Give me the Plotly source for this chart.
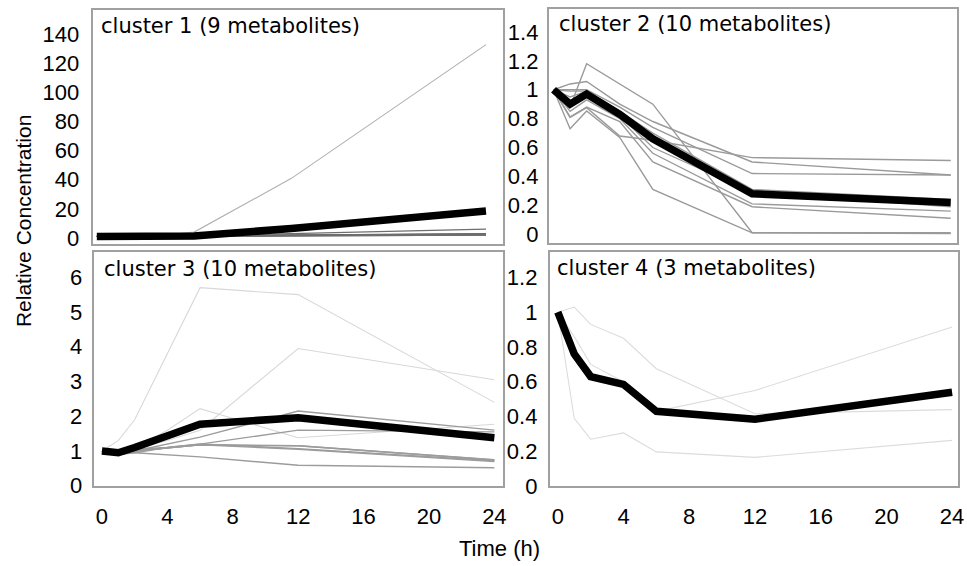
import plotly.graph_objects as go

W, H = 967, 566

time_h = [0, 1, 2, 4, 6, 12, 24]
x_ticks = [0, 4, 8, 12, 16, 20, 24]

# ---- cluster 1 (9 metabolites) ----
c1_light = [
    [1, 1.1, 1.3, 1.8, 4, 41, 133],
]
c1_dark = [
    [1, 1.0, 1.1, 1.3, 1.5, 3.0, 6.0],
    [1, 0.9, 1.0, 1.2, 1.4, 2.0, 3.0],
    [1, 1.0, 1.0, 1.1, 1.3, 1.8, 2.8],
    [1, 1.1, 1.2, 1.3, 1.5, 2.0, 2.6],
    [1, 0.9, 0.9, 1.0, 1.2, 1.6, 2.4],
    [1, 1.0, 1.1, 1.2, 1.3, 1.7, 2.2],
    [1, 1.0, 1.0, 1.1, 1.2, 1.5, 2.0],
    [1, 1.0, 1.0, 1.1, 1.2, 1.4, 1.9],
]
c1_mean = [1, 1.0, 1.0, 1.1, 1.3, 6.5, 18.5]

# ---- cluster 2 (10 metabolites) ----
c2_lines = [
    [1, 0.88, 1.18, 1.04, 0.90, 0.01, 0.005],
    [1, 0.73, 0.853, 0.67, 0.31, 0.01, 0.01],
    [1, 0.81, 0.876, 0.68, 0.65, 0.53, 0.51],
    [1, 1.04, 1.057, 0.90, 0.78, 0.50, 0.41],
    [1, 1.0, 1.0, 0.88, 0.74, 0.42, 0.41],
    [1, 0.99, 0.99, 0.85, 0.70, 0.31, 0.24],
    [1, 0.95, 0.99, 0.85, 0.66, 0.30, 0.21],
    [1, 0.92, 0.95, 0.82, 0.60, 0.29, 0.19],
    [1, 0.85, 0.93, 0.80, 0.56, 0.21, 0.16],
    [1, 0.81, 0.88, 0.78, 0.50, 0.19, 0.11],
]
c2_mean = [1.0, 0.90, 0.97, 0.83, 0.66, 0.28, 0.22]

# ---- cluster 3 (10 metabolites) ----
c3_light = [
    [1, 1.3, 1.9, 3.8, 5.7, 5.5, 2.4],
    [1, 0.95, 1.05, 1.3, 1.6, 3.95, 3.05],
    [1, 0.9, 1.1, 1.6, 2.22, 1.38, 1.77],
]
c3_gray = [
    [1, 0.95, 1.0, 1.2, 1.4, 2.15, 1.6],
    [1, 0.9, 0.95, 1.1, 1.2, 1.6, 1.55],
    [1, 1.0, 1.05, 1.1, 1.2, 1.07, 0.72],
    [1, 0.95, 1.0, 1.1, 1.18, 1.05, 0.70],
    [1, 0.95, 0.95, 0.9, 0.83, 0.59, 0.52],
    [1, 0.95, 1.0, 1.1, 1.18, 1.15, 0.75],
    [1, 0.95, 1.0, 1.1, 1.18, 1.15, 0.74],
]
c3_mean = [1.0, 0.95, 1.1, 1.44, 1.77, 1.96, 1.38]

# ---- cluster 4 (3 metabolites) ----
c4_lines = [
    [1, 1.03, 0.93, 0.85, 0.675, 0.416, 0.44],
    [1, 0.86, 0.70, 0.60, 0.43, 0.55, 0.915],
    [1, 0.39, 0.27, 0.306, 0.197, 0.165, 0.263],
]
c4_mean = [1.0, 0.76, 0.63, 0.585, 0.43, 0.385, 0.54]

titles = ["cluster 1 (9 metabolites)", "cluster 2 (10 metabolites)",
          "cluster 3 (10 metabolites)", "cluster 4 (3 metabolites)"]

# panel pixel boxes: (left, right, top, bottom)
boxes = [(94, 506, 10, 249), (552, 963, 9, 248), (95, 506, 257, 497), (553, 964, 257, 497)]
xranges = [[-0.21, 25.04], [-0.30, 24.38], [-0.46, 24.52], [-0.50, 24.36]]
yranges = [[-4, 157], [-0.059, 1.56], [-0.02, 6.74], [-0.002, 1.349]]
ydticks = [20, 0.2, 1, 0.2]
ytickmax = [140, 1.4, 6, 1.2]
ystandoff = [8, 4, 6, 6]
title_pos = [(100, 27), (560, 25), (103, 275), (558, 274)]

fig = go.Figure()

def add(panel, ys, color, width):
    n = panel + 1
    fig.add_trace(go.Scatter(
        x=time_h, y=ys, mode="lines",
        line=dict(color=color, width=width),
        xaxis="x" if n == 1 else f"x{n}",
        yaxis="y" if n == 1 else f"y{n}",
        showlegend=False, hoverinfo="skip"))

for s in c1_light:
    add(0, s, "#b0b0b0", 1.1)
for s in c1_dark:
    add(0, s, "#6e6e6e", 1.3)
add(0, c1_mean, "#000000", 7.5)

for s in c2_lines:
    add(1, s, "#9a9a9a", 1.4)
add(1, c2_mean, "#000000", 7.5)

for s in c3_light:
    add(2, s, "#d8d8d8", 1.1)
for s in c3_gray:
    add(2, s, "#9c9c9c", 1.4)
add(2, c3_mean, "#000000", 7.5)

for s in c4_lines:
    add(3, s, "#dcdcdc", 1.1)
add(3, c4_mean, "#000000", 7.5)

layout = dict(
    width=W, height=H,
    margin=dict(l=0, r=0, t=0, b=0),
    paper_bgcolor="white", plot_bgcolor="white",
    showlegend=False,
    font=dict(family="Liberation Sans, Arial, sans-serif", size=22, color="black"),
)

for i in range(4):
    n = i + 1
    l, r, t, b = boxes[i]
    xd = [l / W, r / W]
    yd = [(H - b) / H, (H - t) / H]
    xa = "xaxis" if n == 1 else f"xaxis{n}"
    ya = "yaxis" if n == 1 else f"yaxis{n}"
    bottom = i >= 2
    layout[xa] = dict(
        domain=xd, range=xranges[i], anchor="y" if n == 1 else f"y{n}",
        showgrid=False, zeroline=False, showline=True, mirror=True,
        linecolor="#a0a0a0", linewidth=1.5,
        tickmode="array", tickvals=x_ticks, ticktext=[str(v) for v in x_ticks],
        showticklabels=bottom, ticks="", ticklabelstandoff=9,
        tickfont=dict(size=22, color="black"),
    )
    yv = []
    v = 0.0
    while v <= ytickmax[i] + 1e-9:
        yv.append(round(v, 4))
        v += ydticks[i]
    layout[ya] = dict(
        domain=yd, range=yranges[i], anchor="x" if n == 1 else f"x{n}",
        showgrid=False, zeroline=False, showline=True, mirror=True,
        linecolor="#a0a0a0", linewidth=1.5,
        tickmode="array", tickvals=yv,
        ticktext=[("%g" % t) for t in yv],
        ticks="", ticklabelstandoff=ystandoff[i],
        tickfont=dict(size=22, color="black"),
    )

annotations = []
for i, txt in enumerate(titles):
    px, py = title_pos[i]
    annotations.append(dict(
        text=txt, x=px / W, y=1 - py / H, xref="paper", yref="paper",
        xanchor="left", yanchor="middle", showarrow=False,
        font=dict(family="DejaVu Sans, Verdana, sans-serif", size=21, color="black")))

annotations.append(dict(
    text="Relative Concentration", x=23 / W, y=1 - 226 / H, xref="paper", yref="paper",
    xanchor="center", yanchor="middle", textangle=-90, showarrow=False,
    font=dict(size=21, color="black")))
annotations.append(dict(
    text="Time (h)", x=503 / W, y=1 - 560 / H, xref="paper", yref="paper",
    xanchor="center", yanchor="middle", showarrow=False,
    font=dict(size=22, color="black")))
layout["annotations"] = annotations

fig.update_layout(**layout)
fig.write_html("out.html", config={"displayModeBar": False},
               post_script="document.body.style.margin='0';document.body.style.overflow='hidden';")
